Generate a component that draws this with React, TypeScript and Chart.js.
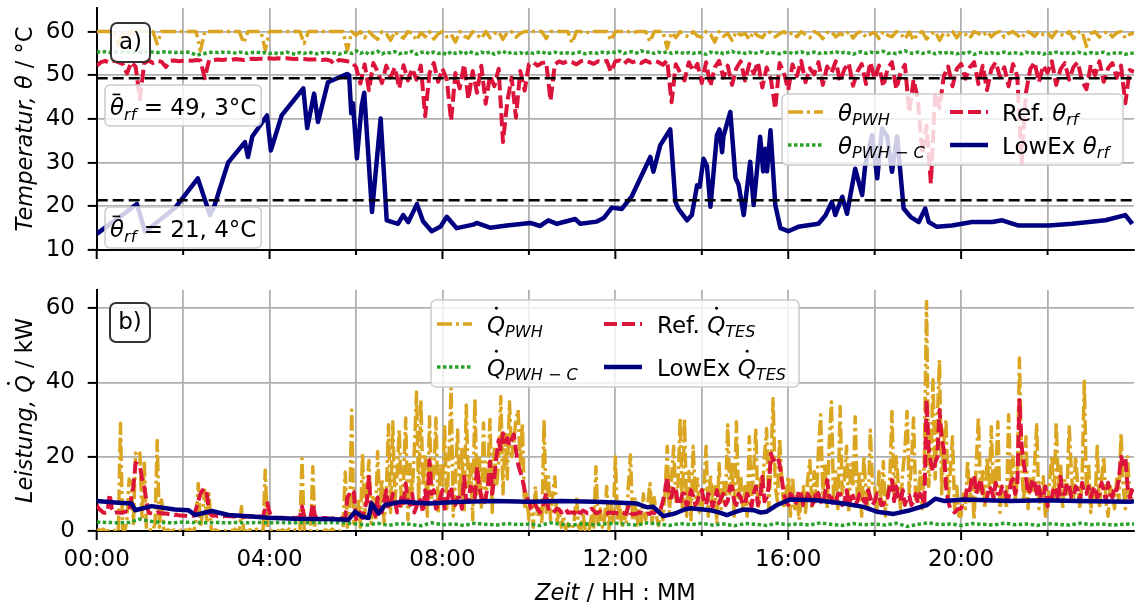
import React, { useEffect, useRef } from 'react';
import { Chart, registerables } from 'chart.js';

Chart.register(...registerables);

// ---------------- data ----------------
const X_MAX_H = 24;
const X_TICKS_H = [0, 2, 4, 6, 8, 10, 12, 14, 16, 18, 20, 22];
const X_LABEL_EVERY_H = 4;
const GRID_STEP_H = 0.1;
const Q_STEP_H = 0.05;
const Q_PWH_C_STEP_H = 0.25;

const Y_TICKS_TEMP = [10, 20, 30, 40, 50, 60];
const Y_TICKS_POWER = [0, 20, 40, 60];
const Y_RANGE_TEMP = [10, 65.4];
const Y_RANGE_POWER = [0, 64.9];

const MEAN_REF_THETA_RF = 49.3;
const MEAN_LOWEX_THETA_RF = 21.4;

// temperatures on the 0.1 h grid (one row = one hour)
const THETA_PWH = [
  60, 60, 60, 60, 60, 57, 60, 59, 60, 60,
  60, 60, 60, 60, 57.2, 60, 60, 60, 60, 60,
  60, 60, 60, 60, 55.6, 60, 60, 60, 60, 60,
  60, 60, 60, 60, 57.4, 60, 60, 60, 60, 55.8,
  60, 60, 60, 60, 60, 60, 60, 60, 57.3, 60,
  60, 60, 60, 60, 60, 60, 60, 60, 55.7, 60,
  59.2, 60, 58.6, 60, 59, 58.2, 60, 59.5, 58, 60,
  59, 58.5, 60, 59.6, 58, 59.8, 58.8, 60, 58.3, 59.5,
  60, 58.8, 59.4, 57.6, 60, 59, 58.5, 60, 59.2, 58.4,
  60, 58.6, 59.5, 60, 58.2, 59.8, 60, 58.7, 59.6, 60,
  60, 60, 60, 60, 58.4, 60, 60, 60, 60, 60,
  57.4, 60, 60, 59.6, 60, 60, 60, 60, 60, 58,
  60, 60, 60, 60, 59.7, 60, 60, 60, 57.7, 60,
  60, 60, 56.2, 59.8, 58.6, 60, 59.2, 58.8, 60, 59,
  58.7, 60, 59.4, 57.6, 60, 58.9, 59.6, 58, 60, 59.2,
  59.6, 58.2, 60, 59, 58.6, 60, 59.8, 58.8, 59.5, 60,
  59.2, 59.8, 58.8, 60, 59.3, 58.6, 60, 59.5, 58.4, 59.8,
  60, 58.8, 59.6, 59, 60, 58.5, 59.7, 60, 58.7, 59.4,
  59.8, 58.4, 60, 59.2, 58.8, 60, 59.5, 58.3, 59.9, 58,
  59.6, 60, 58.3, 59.4, 60, 58, 59.7, 59.2, 60, 58.6,
  60, 59.4, 58.5, 60, 59.6, 59, 60, 58.8, 59.7, 60,
  58.7, 59.6, 60, 59.2, 58.5, 60, 59.8, 58.9, 60, 59.3,
  59.7, 58.6, 60, 59.4, 59, 60, 58.4, 59.8, 60, 56.6,
  59.5, 60, 58.7, 59.6, 60, 58.8, 59.7, 60, 58.5, 59.4,
  59.6,
];

const THETA_PWH_C = [
  55.4, 55.3, 55.4, 55.2, 55.3, 55.4, 55.3, 55.2, 55.4, 55.3,
  55.3, 55.2, 55.4, 55.3, 55.2, 55.3, 55.4, 55.3, 55.2, 55.3,
  55.2, 55.3, 55.1, 54.6, 54.8, 55.0, 55.2, 55.3, 55.2, 55.3,
  55.2, 55.3, 55.1, 55.3, 55.2, 55.0, 55.2, 55.3, 55.1, 55.2,
  55.0, 55.2, 54.9, 55.1, 55.3, 55.0, 54.8, 55.2, 55.0, 55.3,
  55.1, 54.9, 55.2, 55.0, 55.3, 55.1, 54.8, 55.2, 55.3, 55.0,
  55.6, 55.0, 55.4, 54.8, 55.2, 55.5, 54.9, 55.3, 55.1, 55.4,
  54.9, 55.3, 55.0, 55.5, 54.8, 55.2, 55.4, 54.9, 55.3, 55.0,
  55.2, 54.7, 55.4, 55.0, 55.3, 54.8, 55.5, 55.1, 54.9, 55.3,
  55.0, 55.4, 54.8, 55.2, 55.5, 54.9, 55.3, 55.0, 55.2, 54.8,
  55.3, 55.0, 55.2, 55.4, 54.9, 55.1, 55.3, 55.0, 55.2, 55.1,
  55.0, 55.2, 55.3, 54.9, 55.1, 55.2, 55.0, 55.3, 55.1, 55.4,
  55.2, 55.5, 55.0, 55.3, 55.4, 55.1, 55.6, 55.2, 55.4, 55.0,
  55.3, 55.1, 55.4, 55.0, 55.2, 55.3, 54.9, 55.2, 55.0, 55.3,
  55.1, 54.8, 55.3, 55.0, 55.4, 54.9, 55.2, 55.5, 55.0, 55.3,
  55.0, 55.3, 54.9, 55.2, 55.4, 55.0, 55.3, 55.1, 54.9, 55.2,
  55.3, 55.0, 55.2, 55.4, 54.9, 55.1, 55.3, 55.0, 55.2, 55.1,
  55.2, 55.4, 55.0, 55.3, 55.1, 54.8, 55.2, 55.4, 55.0, 55.3,
  55.1, 55.3, 55.5, 55.0, 55.2, 54.9, 55.3, 55.6, 55.1, 55.0,
  55.3, 55.0, 55.2, 55.4, 54.9, 55.2, 55.0, 55.3, 55.1, 54.9,
  55.2, 55.0, 55.3, 54.8, 55.1, 55.3, 55.0, 55.2, 54.9, 55.1,
  55.3, 55.0, 55.2, 55.1, 54.9, 55.3, 55.0, 55.2, 55.1, 54.8,
  55.2, 55.0, 55.3, 55.1, 54.9, 55.2, 55.0, 55.3, 55.1, 54.9,
  55.2, 55.0, 55.1, 55.3, 54.9, 55.0, 55.2, 55.1, 54.8, 55.0,
  55.1,
];

const REF_THETA_RF = [
  52.2, 53.0, 53.3, 52.8, 53.4, 53.0, 52.6, 50.4, 53.0, 52.0,
  44.5, 52.8, 53.4, 52.8, 53.3, 53.1, 51.9, 53.3, 53.4, 53.2,
  53.3, 53.4, 53.3, 53.5, 53.4, 49.3, 53.5, 53.5, 53.6, 53.5,
  53.6, 53.5, 53.7, 53.6, 53.5, 53.7, 53.8, 53.7, 53.8, 53.8,
  53.9, 53.8, 53.9, 53.8, 53.9, 53.8, 53.7, 53.8, 53.7, 53.6,
  53.6, 53.7, 53.5, 53.6, 53.4, 52.6, 53.5, 53.4, 53.2, 53.0,
  51.9, 48.1, 52.5, 46.6, 52.8, 50.8, 48.2, 52.2, 49.5, 51.8,
  47.0, 52.3, 48.8, 51.5, 49.0, 52.2, 40.6, 50.5, 52.8, 48.5,
  51.5, 49.0, 39.6, 50.5, 47.0, 52.5, 44.5, 51.0, 46.0, 52.2,
  43.5, 50.0, 47.5, 51.5, 34.7, 44.0, 49.5, 40.3, 51.0, 46.5,
  52.5, 53.0, 52.2, 52.8, 53.0, 44.2, 52.5, 53.2, 52.8, 53.3,
  53.0, 52.5, 53.2, 53.4, 53.0, 52.6, 53.2, 53.0, 53.3, 50.8,
  53.2, 53.4, 52.6, 53.5, 53.0, 53.3, 52.8, 53.4, 52.9, 53.3,
  53.0, 52.4, 53.4, 43.8, 52.5, 50.6, 48.8, 53.0, 51.0, 52.6,
  48.2, 53.0, 47.5, 51.8, 53.3, 49.5, 52.2, 47.8, 51.6, 53.2,
  48.8, 52.6, 50.4, 53.0, 47.2, 51.8, 49.0, 42.3, 52.8, 50.6,
  46.6, 52.5, 49.8, 53.3, 48.4, 51.6, 50.2, 53.0, 47.8, 52.0,
  50.5, 53.2, 48.6, 51.4, 52.8, 47.6, 50.8, 52.6, 48.0, 53.0,
  49.2, 52.2, 47.4, 51.6, 53.0, 46.8, 50.6, 52.4, 41.5, 49.0,
  44.5, 32.0, 38.5, 25.2, 46.0, 42.5, 49.8, 52.0, 47.5, 51.5,
  52.6, 49.2, 51.8, 53.0, 48.0, 52.2, 46.6, 51.4, 53.0, 49.6,
  51.8, 47.5, 52.6, 49.8, 29.8, 46.0, 51.4, 53.0, 48.4, 52.2,
  50.6, 53.2, 47.8, 51.4, 52.8, 49.0, 51.9, 53.0, 48.6, 46.8,
  52.4, 50.0, 53.2, 48.5, 51.6, 52.8, 49.4, 52.2, 43.6, 51.2,
  50.8,
];

const LOWEX_THETA_RF_T = [
  0.0, 0.93, 1.12, 1.81, 2.34, 2.62, 2.72, 3.04, 3.43, 3.5, 3.6, 3.94, 4.03, 4.28, 4.78, 4.87,
  5.03, 5.12, 5.35, 5.79, 5.84, 5.89, 5.93, 6.02, 6.13, 6.19, 6.37, 6.57, 6.71, 6.97, 7.09, 7.21,
  7.41, 7.55, 7.75, 7.95, 8.1, 8.33, 8.71, 8.79, 9.1, 9.49, 10.03, 10.26, 10.45, 10.65, 11.07, 11.19,
  11.57, 11.73, 11.92, 12.15, 12.38, 12.81, 12.88, 13.04, 13.27, 13.39, 13.46, 13.66, 13.77, 13.89,
  13.95, 14.04, 14.12, 14.2, 14.35, 14.41, 14.47, 14.5, 14.66, 14.78, 14.85, 14.97, 15.12, 15.2,
  15.35, 15.42, 15.47, 15.51, 15.59, 15.7, 15.82, 16.0, 16.23, 16.7, 16.86, 17.01, 17.09, 17.25,
  17.36, 17.55, 17.71, 17.78, 17.94, 18.06, 18.17, 18.29, 18.4, 18.52, 18.67, 18.83, 19.02, 19.17,
  19.25, 19.44, 19.79, 20.25, 20.72, 20.95, 21.33, 22.03, 22.57, 23.34, 23.8, 23.96,
];
const LOWEX_THETA_RF = [
  13.7, 20.5, 14.2, 19.6, 26.4, 18.0, 20.0, 30.0, 34.7, 31.3, 36.0, 40.8, 32.8, 40.8, 47.0, 37.9,
  45.8, 39.3, 48.4, 50.3, 50.0, 41.3, 43.6, 31.0, 43.0, 46.0, 18.7, 40.1, 16.8, 16.0, 18.0, 16.4,
  20.5, 16.6, 14.3, 15.3, 17.6, 15.0, 15.8, 16.2, 15.1, 15.6, 16.2, 15.5, 16.8, 16.0, 17.1, 16.0,
  16.5, 17.3, 19.7, 19.4, 22.3, 31.3, 27.9, 34.0, 37.6, 21.0, 19.4, 16.8, 18.0, 24.8,
  24.5, 30.9, 29.2, 19.9, 36.3, 37.6, 32.4, 36.0, 41.6, 26.4, 25.0, 18.0, 30.2, 20.3,
  35.9, 28.0, 33.2, 28.0, 37.4, 20.3, 15.0, 14.3, 15.3, 16.0, 17.9, 21.0, 18.0, 22.2,
  18.3, 28.6, 22.6, 29.3, 36.3, 26.4, 37.8, 36.0, 27.9, 36.0, 19.5, 17.6, 16.4, 19.5,
  16.4, 15.3, 15.6, 16.4, 16.4, 16.8, 15.6, 15.6, 16.0, 16.8, 18.0, 16.0,
];

// power on the 0.05 h grid (one row = one hour)
const Q_PWH = [
  0, 0.3, 0, 0.5, 0, 0, 0.3, 0, 0, 0.5, 0, 29, 0.5, 0, 3, 14, 13, 2, 21, 20,
  21, 3, 19, 0.5, 0, 0.3, 0, 2, 24.4, 1, 9, 0.5, 0, 0.3, 0, 0, 0.3, 0, 0, 0.2,
  0, 0.3, 0, 0.5, 0, 0, 3, 12.8, 1, 5, 11, 2, 10, 0.5, 0, 0.3, 0, 0, 0.3, 0,
  0, 0, 0.3, 0, 0.5, 0, 0, 6.6, 0.3, 0, 0, 0.3, 0, 0, 0.5, 0, 0, 0.3, 16.4, 1,
  0.5, 0, 0, 0.3, 0, 0, 0.3, 0, 0, 0.5, 0, 0, 0.3, 0, 0, 19.5, 0.5, 0, 0.3, 0,
  17.3, 0.5, 0, 0.3, 0, 0, 0.3, 0, 0, 0.5, 0, 0.3, 0, 0, 0.5, 15.9, 1, 4, 32.6, 2,
  3, 8, 1, 20.8, 4, 12, 19, 2, 9, 3, 21.4, 6, 14, 2, 10, 28.6, 5, 29.4, 8, 15,
  27.2, 6, 14, 30.4, 3, 18, 10, 22, 37.4, 8, 35.3, 12, 20, 4, 30.8, 9, 16, 30.4, 5, 18,
  12, 28.1, 6, 20, 38.5, 4, 14, 27.2, 9, 22, 5, 33.9, 12, 18, 3, 35.7, 10, 20, 6, 29.1,
  8, 16, 30, 5, 22, 12, 18, 36.2, 10, 26, 14, 34.8, 20, 24, 30, 32.6, 18, 29.1, 6, 10,
  3, 8, 1, 12, 4, 6, 2, 30, 5, 14.6, 3, 10, 14.6, 2, 6, 1, 4, 0.5, 2, 1,
  0.5, 3, 9.3, 1, 0.5, 5, 0.3, 2, 0.5, 4, 1, 17.3, 2, 6, 1, 3, 12, 0.5, 8, 2,
  20, 3, 8, 1, 5, 2, 12, 20.5, 3, 9, 1, 6, 2, 10, 3, 7, 12.8, 2, 9, 4,
  1.5, 6, 3, 10, 22.8, 5, 14, 22.8, 8, 12, 30.4, 6, 30.4, 4, 16, 3, 22.8, 9, 14, 5,
  5, 12, 22.8, 4, 15, 8, 12, 2, 18.2, 6, 14, 8, 28.6, 10, 18, 4, 29.4, 9, 15, 6,
  12, 4, 25.4, 8, 16, 27.6, 5, 14, 10, 20, 27.6, 6, 18, 35.7, 12, 8, 25, 14, 6, 10,
  14.6, 4, 14.6, 6, 10, 3, 8, 12, 5, 14, 19, 6, 16, 8, 22, 31.3, 10, 18, 6, 24,
  34.8, 8, 16, 6, 33.5, 10, 14, 22.8, 5, 18, 12, 30.8, 8, 16, 4, 20, 10, 6, 27.2, 12,
  12, 5, 16, 8, 18.7, 4, 10, 14, 32.2, 8, 20, 12, 6, 16, 22, 32.2, 10, 18, 30.4, 8,
  8, 16, 6, 20, 61.8, 12, 18, 40.7, 14, 30, 46.1, 10, 24, 30, 8, 16, 25.4, 6, 12, 4,
  4, 10, 6, 19, 8, 14, 3, 18, 30.8, 10, 16, 6, 20, 12, 28.1, 8, 14, 29.4, 5, 12,
  10, 6, 31.3, 12, 20, 8, 14, 46.6, 18, 8, 25.4, 6, 14, 10, 18, 28.6, 6, 12, 14.6, 4,
  6, 14, 20, 8, 29.4, 12, 18, 6, 14, 10, 28.1, 16, 8, 20, 12, 6, 14, 40.3, 10, 18,
  5, 12, 8, 22.8, 6, 14, 20, 8, 4, 12, 10, 6, 14, 8, 26.3, 12, 6, 20, 10, 8,
  8,
];

const REF_Q_TES = [
  7, 6, 5.5, 5, 4.9, 5, 10, 6, 4.8, 5, 5, 4.9, 4.9, 5.2, 5.2, 5, 9, 12, 18.3, 18,
  17.5, 14, 12, 8, 4.9, 4.8, 4.6, 4.7, 5, 4.9, 4.8, 4.7, 4.7, 4.6, 4.5, 4.5, 4.3, 4.4, 4.2, 4.2,
  4.1, 4.1, 4.0, 4.1, 4.2, 4.1, 6, 8, 10, 11, 9.5, 10, 5, 4.3, 4.1, 4.2, 4.0, 4.1, 4.0, 4.0,
  4.1, 4.0, 4.0, 3.9, 3.9, 4.0, 4.0, 3.9, 3.8, 3.9, 3.9, 3.8, 4.0, 3.9, 3.8, 3.9, 3.9, 3.8, 6, 7.5,
  5, 3.7, 3.6, 3.6, 3.5, 3.6, 3.6, 3.5, 3.5, 3.6, 3.6, 3.5, 3.5, 3.6, 3.6, 6.6, 4, 3.5, 3.5, 3.6,
  7.5, 4, 3.6, 3.5, 3.4, 3.5, 3.5, 3.4, 3.3, 3.4, 3.4, 3.5, 3.5, 3.4, 3.4, 3.5, 9, 10, 11, 10.5,
  3.2, 4, 5, 3.5, 6, 8, 14.6, 5, 6.5, 4, 9, 6, 5, 8, 11, 6, 7, 10, 8.5, 5,
  6, 9, 7, 12.8, 8, 7, 10, 5, 6.6, 9, 8, 5, 11, 7, 19, 10, 11, 6, 7, 9,
  11, 6, 8, 10, 12, 7, 7, 9, 9, 6, 14.6, 8, 8, 12, 11, 9, 17.3, 12, 9, 7,
  9, 12, 18.7, 10, 14.6, 20, 24.5, 22, 26.3, 24, 25, 23, 24.5, 26, 21.8, 18, 16, 14, 11, 9,
  8, 6, 5.7, 7, 6, 5, 5.5, 8, 10.2, 6, 6, 5, 5.4, 6, 5.7, 5, 5.2, 6, 4.9, 5,
  5, 4.8, 6, 5, 4.9, 5.5, 5.2, 4.8, 4.8, 6, 5.5, 4.8, 4.9, 5.2, 5, 4.7, 4.7, 5, 4.9, 4.8,
  5, 4.7, 4.6, 5, 4.8, 4.6, 6.6, 4.8, 4.5, 4.6, 4.7, 5, 4.9, 4.6, 4.4, 4.7, 4.6, 5, 4.8, 5.5,
  5, 6, 8, 11, 14.6, 9, 9, 12, 11, 7, 7.5, 10, 10, 6.5, 8.5, 11, 9.5, 7, 8, 10,
  11, 8, 7, 10, 9, 6.5, 8.5, 11, 7.5, 9, 10, 7, 8, 12, 12, 8, 7, 10, 9, 7,
  7.5, 10, 8.5, 6.5, 10, 12, 7, 9, 14.6, 8, 9, 12, 20.9, 19, 19.5, 20, 18, 14, 10, 8,
  7, 10, 9.5, 7, 8, 11, 10, 7, 7.5, 10, 9, 7, 8, 11, 10, 8, 7, 10, 13.7, 9,
  9, 7, 7.5, 10, 10, 7, 8, 11, 7, 9, 9.5, 7, 8, 10, 10, 8, 7.5, 11, 9, 7,
  8, 10, 10, 7, 7, 9, 9, 12, 13.7, 8, 12, 9, 8, 11, 7, 9, 9.5, 7, 8, 10,
  7.5, 10, 9, 7, 35.3, 22, 18.3, 16, 18.3, 20, 32.6, 25, 21.8, 12, 8, 6, 5.7, 5, 5.7, 6,
  6, 8, 9, 12, 11, 14, 15, 10, 12, 14, 10, 8, 9, 12, 11, 9, 13, 10, 10, 12,
  12, 9, 9, 13, 14, 10, 12, 35.3, 22.8, 18, 14.6, 10, 11, 14, 13, 10, 12, 9, 9, 12,
  6.6, 9, 9, 12, 11, 8, 14.6, 10, 10, 13, 12, 9, 9, 12, 11, 8, 13, 10, 10, 12,
  9, 11, 12, 9, 10, 13, 11, 8, 13, 10, 9, 12, 11, 14, 20, 18, 20, 12, 9, 11,
  9,
];

// 0.25 h grid
const Q_PWH_C = [
  2.4, 2.3, 2.2, 2.3, 3.2, 2.6, 2.3, 2.2, 2.4, 2.3, 2.2, 2.3, 2.2, 2.3, 2.2, 2.3, 2.2, 2.3, 2.2, 2.2, 2.3, 2.2, 2.3, 2.2,
  1.9, 1.6, 2.1, 1.5, 2.0, 1.8, 1.4, 2.2, 1.7, 1.9, 1.5, 2.1, 1.8, 1.6, 2.0, 1.7, 1.9, 1.5, 2.2, 1.8, 1.6, 2.0, 1.7, 1.9,
  2.1, 1.8, 1.6, 2.2, 1.9, 1.5, 2.0, 1.7, 2.1, 1.6, 1.9, 1.4, 2.0, 1.8, 1.5, 2.1, 1.7, 1.9, 1.6, 2.2, 1.8, 1.5, 2.0, 1.7,
  1.9, 1.6, 2.1, 1.2, 1.8, 2.2, 1.7, 1.9, 1.5, 2.0, 1.8, 1.6, 2.1, 1.7, 1.9, 1.5, 2.0, 1.8, 1.6, 2.1, 1.7, 1.9, 1.6, 1.8,
  1.9,
];

const LOWEX_Q_TES_T = [
  0, 0.42, 0.81, 0.89, 1.27, 1.81, 2.12, 2.28, 2.66, 3.05, 3.59, 3.97, 4.59, 5.36, 5.82, 5.98,
  6.13, 6.29, 6.36, 6.52, 6.67, 7.06, 7.68, 8.45, 9.22, 9.99, 10.76, 11.53, 12.0, 12.5, 12.73,
  12.88, 13.11, 13.3, 13.42, 13.6, 13.73, 13.9, 14.2, 14.4, 14.58, 14.8, 14.97, 15.2, 15.35,
  15.5, 15.74, 16.05, 16.66, 17.28, 17.74, 18.05, 18.44, 18.82, 19.21, 19.4, 19.6, 20.06,
  21.14, 21.91, 22.68, 23.92, 24,
];
const LOWEX_Q_TES = [
  8.1, 7.7, 7.4, 5.6, 6.7, 5.8, 5.6, 4.3, 5.4, 4.3, 3.9, 3.6, 3.3, 3.2, 3.0, 5.2,
  3.9, 3.5, 7.4, 4.7, 7.0, 7.9, 7.4, 7.9, 8.1, 7.9, 8.1, 7.9, 7.7, 7.4, 6.4,
  6.5, 4.0, 4.5, 4.9, 5.8, 6.1, 5.9, 5.6, 5.0, 4.3, 5.2, 5.8, 5.6, 5.0,
  5.2, 7.0, 8.5, 8.3, 7.4, 6.5, 5.2, 4.6, 5.6, 7.0, 8.7, 8.1, 8.5,
  8.1, 8.3, 8.1, 7.9, 8.0,
];

// ---------------- styles ----------------
const FAMILY = '"DejaVu Sans"';
const FS = 23;
const FS_TITLE = 22.5;
const GRID = '#b0b0b0';
const ST_PWH = { color: '#daa520', width: 3.5, dash: [15, 4, 3, 4] };
const ST_PWHC = { color: '#2ca02c', width: 3.5, dash: [3.5, 2.5] };
const ST_REF = { color: '#dc143c', width: 4, dash: [13, 5] };
const ST_LOW = { color: '#000080', width: 4.5, dash: [] as number[] };
const ST_MEAN = { color: '#000000', width: 2.5, dash: [11, 5] };

type Seg = { t: string; i?: boolean; s?: boolean; dot?: boolean; bar?: boolean };

const onGrid = (vals: number[], step: number) => vals.map((y, k) => ({ x: Math.round(k * step * 1000) / 1000, y }));
const pairs = (ts: number[], vs: number[]) => ts.map((x, k) => ({ x, y: vs[k] }));
const fmtDe = (v: number) => v.toFixed(1).replace('.', ', ');
const fmtHour = (v: number) => (v % X_LABEL_EVERY_H === 0 ? `${String(v).padStart(2, '0')}:00` : '');

function segFont(s: Seg, size: number) {
  return `${s.i ? 'italic ' : ''}${s.s ? size * 0.7 : size}px ${FAMILY}`;
}
function measureMath(ctx: CanvasRenderingContext2D, segs: Seg[], size: number) {
  let w = 0;
  for (const s of segs) {
    ctx.font = segFont(s, size);
    w += ctx.measureText(s.t).width;
  }
  return w;
}
function drawMath(ctx: CanvasRenderingContext2D, segs: Seg[], x: number, y: number, size: number) {
  ctx.textAlign = 'left';
  ctx.textBaseline = 'alphabetic';
  ctx.fillStyle = '#000';
  for (const s of segs) {
    ctx.font = segFont(s, size);
    const w = ctx.measureText(s.t).width;
    ctx.fillText(s.t, x, s.s ? y + size * 0.2 : y);
    if (s.dot) {
      ctx.beginPath();
      ctx.arc(x + w * 0.52, y - size * 1.05, size * 0.065, 0, Math.PI * 2);
      ctx.fill();
    }
    if (s.bar) {
      ctx.fillRect(x + w * 0.18, y - size * 0.93, w * 0.55, size * 0.07);
    }
    x += w;
  }
}
function roundBox(ctx: CanvasRenderingContext2D, x: number, y: number, w: number, h: number, r: number, fill: string, stroke: string, lw: number) {
  ctx.beginPath();
  ctx.moveTo(x + r, y);
  ctx.lineTo(x + w - r, y);
  ctx.arcTo(x + w, y, x + w, y + r, r);
  ctx.lineTo(x + w, y + h - r);
  ctx.arcTo(x + w, y + h, x + w - r, y + h, r);
  ctx.lineTo(x + r, y + h);
  ctx.arcTo(x, y + h, x, y + h - r, r);
  ctx.lineTo(x, y + r);
  ctx.arcTo(x, y, x + r, y, r);
  ctx.closePath();
  ctx.fillStyle = fill;
  ctx.fill();
  ctx.lineWidth = lw;
  ctx.strokeStyle = stroke;
  ctx.setLineDash([]);
  ctx.stroke();
}

type LegendItem = { segs: Seg[]; st: { color: string; width: number; dash: number[] }; col: number; row: number };
type Deco = {
  yTitle: Seg[];
  yTitleX: number;
  xTitle?: Seg[];
  xTitleBaseline?: number;
  tag: string;
  tagBox: [number, number, number, number];
  legendBox: [number, number, number, number];
  legendCols: { s0: number; s1: number; tx: number }[];
  legendRows: number[];
  legendItems: LegendItem[];
  notes: { segs: Seg[]; x: number; baseline: number; boxTop: number; boxH: number }[];
};

function decoPlugin(deco: Deco) {
  return {
    id: 'deco',
    afterDraw(chart: any) {
      const { ctx, chartArea: ca } = chart;
      const xs = chart.scales.x;
      ctx.save();
      ctx.strokeStyle = '#000';
      ctx.lineWidth = 2;
      ctx.setLineDash([]);
      for (const v of X_TICKS_H) {
        const px = xs.getPixelForValue(v);
        const len = v % X_LABEL_EVERY_H === 0 ? 9 : 5;
        ctx.beginPath();
        ctx.moveTo(px, ca.bottom);
        ctx.lineTo(px, ca.bottom + len);
        ctx.stroke();
      }
      for (const n of deco.notes) {
        const w = measureMath(ctx, n.segs, FS);
        roundBox(ctx, n.x - 5, n.boxTop, w + 10, n.boxH, 5, 'rgba(255,255,255,0.8)', '#cccccc', 1.5);
        drawMath(ctx, n.segs, n.x, n.baseline, FS);
      }
      const [tx, ty, tw, th] = deco.tagBox;
      roundBox(ctx, tx, ty, tw, th, 6, 'rgba(255,255,255,0.85)', '#333333', 2);
      ctx.fillStyle = '#000';
      ctx.font = `${FS}px ${FAMILY}`;
      ctx.textAlign = 'center';
      ctx.textBaseline = 'middle';
      ctx.fillText(deco.tag, tx + tw / 2, ty + th / 2 + 1);
      const [lx, ly, lw, lh] = deco.legendBox;
      roundBox(ctx, lx, ly, lw, lh, 5, 'rgba(255,255,255,0.8)', '#cccccc', 1.5);
      for (const it of deco.legendItems) {
        const c = deco.legendCols[it.col];
        const ry = deco.legendRows[it.row];
        ctx.beginPath();
        ctx.strokeStyle = it.st.color;
        ctx.lineWidth = it.st.width;
        ctx.lineCap = 'butt';
        ctx.setLineDash(it.st.dash);
        ctx.moveTo(c.s0, ry);
        ctx.lineTo(c.s1, ry);
        ctx.stroke();
        ctx.setLineDash([]);
        drawMath(ctx, it.segs, c.tx, ry + 8.5, FS);
      }
      ctx.save();
      ctx.translate(deco.yTitleX, (ca.top + ca.bottom) / 2);
      ctx.rotate(-Math.PI / 2);
      const yw = measureMath(ctx, deco.yTitle, FS_TITLE);
      drawMath(ctx, deco.yTitle, -yw / 2, 0, FS_TITLE);
      ctx.restore();
      if (deco.xTitle) {
        const xw = measureMath(ctx, deco.xTitle, FS_TITLE);
        drawMath(ctx, deco.xTitle, (ca.left + ca.right) / 2 - xw / 2, deco.xTitleBaseline!, FS_TITLE);
      }
      ctx.restore();
    },
  };
}

function lineDs(label: string, data: any[], st: any, order: number) {
  return {
    label,
    data,
    borderColor: st.color,
    borderWidth: st.width,
    borderDash: st.dash,
    borderCapStyle: 'butt',
    borderJoinStyle: 'round',
    pointRadius: 0,
    fill: false,
    tension: 0,
    order,
  };
}

function xScale(showLabels: boolean, height: number) {
  return {
    type: 'linear',
    min: 0,
    max: X_MAX_H,
    afterBuildTicks: (ax: any) => {
      ax.ticks = X_TICKS_H.map((value) => ({ value }));
    },
    afterFit: (ax: any) => {
      ax.height = height;
      ax.paddingLeft = 0;
      ax.paddingRight = 0;
    },
    grid: { color: GRID, lineWidth: 1.8, drawTicks: false },
    border: { display: true, color: '#000', width: 2 },
    ticks: {
      display: showLabels,
      autoSkip: false,
      maxRotation: 0,
      padding: 15.7,
      color: '#000',
      font: { family: 'DejaVu Sans', size: FS },
      callback: (v: number) => fmtHour(v),
    },
  };
}

function yScale(range: number[], ticks: number[]) {
  return {
    type: 'linear',
    min: range[0],
    max: range[1],
    afterBuildTicks: (ax: any) => {
      ax.ticks = ticks.map((value) => ({ value }));
    },
    afterFit: (ax: any) => {
      ax.width = 96.7;
      ax.paddingTop = 0;
      ax.paddingBottom = 0;
    },
    grid: { color: GRID, lineWidth: 1.8, drawTicks: true, tickLength: 9, tickColor: '#000', tickWidth: 2 },
    border: { display: true, color: '#000', width: 2 },
    ticks: {
      padding: 12.7,
      color: '#000',
      font: { family: 'DejaVu Sans', size: FS },
      callback: (v: number) => String(v),
    },
  };
}

function baseOptions(padTop: number, x: any, y: any) {
  return {
    responsive: false,
    maintainAspectRatio: false,
    animation: false,
    devicePixelRatio: 1,
    layout: { padding: { top: padTop, right: 2, left: 0, bottom: 0 } },
    plugins: { legend: { display: false }, tooltip: { enabled: false }, title: { display: false } },
    elements: { point: { radius: 0 }, line: { tension: 0 } },
    scales: { x, y },
  };
}

const theta: Seg = { t: 'θ', i: true };
const qdot: Seg = { t: 'Q', i: true, dot: true };
const subPWHC: Seg[] = [{ t: 'PWH', i: true, s: true }, { t: ' − ', s: true }, { t: 'C', i: true, s: true }];

function configA() {
  const meanLine = (v: number) => [{ x: 0, y: v }, { x: X_MAX_H, y: v }];
  const deco: Deco = {
    yTitle: [{ t: 'Temperatur, θ', i: true }, { t: ' / °C' }],
    yTitleX: 32,
    tag: 'a)',
    tagBox: [111, 23, 39, 39],
    legendBox: [782, 94, 341, 71],
    legendCols: [{ s0: 788, s1: 823, tx: 838 }, { s0: 950, s1: 988, tx: 1002 }],
    legendRows: [112, 145],
    legendItems: [
      { segs: [theta, { t: 'PWH', i: true, s: true }], st: ST_PWH, col: 0, row: 0 },
      { segs: [theta, ...subPWHC], st: ST_PWHC, col: 0, row: 1 },
      { segs: [{ t: 'Ref. ' }, theta, { t: 'rf', i: true, s: true }], st: ST_REF, col: 1, row: 0 },
      { segs: [{ t: 'LowEx ' }, theta, { t: 'rf', i: true, s: true }], st: ST_LOW, col: 1, row: 1 },
    ],
    notes: [
      { segs: [{ t: 'θ', i: true, bar: true }, { t: 'rf', i: true, s: true }, { t: ` = ${fmtDe(MEAN_REF_THETA_RF)}°C` }], x: 110, baseline: 115, boxTop: 85, boxH: 41 },
      { segs: [{ t: 'θ', i: true, bar: true }, { t: 'rf', i: true, s: true }, { t: ` = ${fmtDe(MEAN_LOWEX_THETA_RF)}°C` }], x: 110, baseline: 237, boxTop: 207, boxH: 41 },
    ],
  };
  return {
    type: 'line',
    data: {
      datasets: [
        lineDs('mean ref', meanLine(MEAN_REF_THETA_RF), ST_MEAN, 0),
        lineDs('mean lowex', meanLine(MEAN_LOWEX_THETA_RF), ST_MEAN, 0),
        lineDs('LowEx θrf', pairs(LOWEX_THETA_RF_T, LOWEX_THETA_RF), ST_LOW, 1),
        lineDs('Ref. θrf', onGrid(REF_THETA_RF, GRID_STEP_H), ST_REF, 2),
        lineDs('θPWH-C', onGrid(THETA_PWH_C, GRID_STEP_H), ST_PWHC, 3),
        lineDs('θPWH', onGrid(THETA_PWH, GRID_STEP_H), ST_PWH, 4),
      ],
    },
    options: baseOptions(8, xScale(false, 20), yScale(Y_RANGE_TEMP, Y_TICKS_TEMP)),
    plugins: [decoPlugin(deco)],
  };
}

function configB() {
  const deco: Deco = {
    yTitle: [{ t: 'Leistung, ', i: true }, qdot, { t: ' / kW' }],
    yTitleX: 32,
    xTitle: [{ t: 'Zeit', i: true }, { t: ' / HH : MM' }],
    xTitleBaseline: 330,
    tag: 'b)',
    tagBox: [110, 33, 40, 39],
    legendBox: [431, 30, 368, 87],
    legendCols: [{ s0: 437, s1: 472, tx: 487 }, { s0: 604, s1: 642, tx: 657 }],
    legendRows: [54, 97],
    legendItems: [
      { segs: [qdot, { t: 'PWH', i: true, s: true }], st: ST_PWH, col: 0, row: 0 },
      { segs: [qdot, ...subPWHC], st: ST_PWHC, col: 0, row: 1 },
      { segs: [{ t: 'Ref. ' }, qdot, { t: 'TES', i: true, s: true }], st: ST_REF, col: 1, row: 0 },
      { segs: [{ t: 'LowEx ' }, qdot, { t: 'TES', i: true, s: true }], st: ST_LOW, col: 1, row: 1 },
    ],
    notes: [],
  };
  return {
    type: 'line',
    data: {
      datasets: [
        lineDs('LowEx QTES', pairs(LOWEX_Q_TES_T, LOWEX_Q_TES), ST_LOW, 1),
        lineDs('Ref. QTES', onGrid(REF_Q_TES, Q_STEP_H), ST_REF, 2),
        lineDs('QPWH-C', onGrid(Q_PWH_C, Q_PWH_C_STEP_H), ST_PWHC, 3),
        lineDs('QPWH', onGrid(Q_PWH, Q_STEP_H), ST_PWH, 4),
      ],
    },
    options: baseOptions(20, xScale(true, 75), yScale(Y_RANGE_POWER, Y_TICKS_POWER)),
    plugins: [decoPlugin(deco)],
  };
}

export default function App() {
  const refA = useRef<HTMLCanvasElement>(null);
  const refB = useRef<HTMLCanvasElement>(null);
  useEffect(() => {
    const a = new Chart(refA.current as HTMLCanvasElement, configA() as any);
    const b = new Chart(refB.current as HTMLCanvasElement, configB() as any);
    return () => {
      a.destroy();
      b.destroy();
    };
  }, []);
  return (
    <div style={{ position: 'absolute', left: 0, top: 0, width: 1136, height: 606, background: '#fff' }}>
      <canvas ref={refA} width={1136} height={270} style={{ position: 'absolute', left: 0, top: 0 }} />
      <canvas ref={refB} width={1136} height={336} style={{ position: 'absolute', left: 0, top: 270 }} />
    </div>
  );
}
